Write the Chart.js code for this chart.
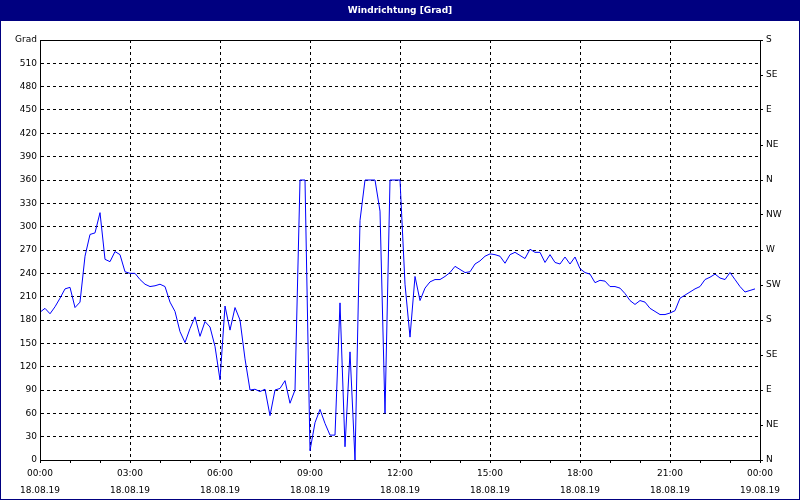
<!DOCTYPE html>
<html>
<head>
<meta charset="utf-8">
<title>Windrichtung [Grad]</title>
<script src="https://cdn.jsdelivr.net/npm/chart.js@4/dist/chart.umd.min.js"></script>
<style>
  html, body { margin: 0; padding: 0; background: #fff; }
  canvas { display: block; }
</style>
</head>
<body>
<canvas id="windChart" width="800" height="500"></canvas>
<script>
// --- data (10 min samples, minutes since 00:00) ---
const chartTitle = 'Windrichtung [Grad]';
const yAxisUnit = 'Grad';

const sampleMinutes = [
  0, 10, 20, 30, 40, 50,
  60, 70, 80, 90, 100, 110,
  120, 130, 140, 150, 160, 170,
  180, 190, 200, 210, 220, 230,
  240, 250, 260, 270, 280, 290,
  300, 310, 320, 330, 340, 350,
  360, 370, 380, 390, 400, 410,
  420, 430, 440, 450, 460, 470,
  480, 490, 500, 510, 520, 530,
  540, 550, 560, 570, 580, 590,
  600, 610, 620, 630, 640, 650,
  660, 670, 680, 690, 700, 710,
  720, 730, 740, 750, 760, 770,
  780, 790, 800, 810, 820, 830,
  840, 850, 860, 870, 880, 890,
  900, 910, 920, 930, 940, 950,
  960, 970, 980, 990, 1000, 1010,
  1020, 1030, 1040, 1050, 1060, 1070,
  1080, 1090, 1100, 1110, 1120, 1130,
  1140, 1150, 1160, 1170, 1180, 1190,
  1200, 1210, 1220, 1230, 1240, 1250,
  1260, 1270, 1280, 1290, 1300, 1310,
  1320, 1330, 1340, 1350, 1360, 1370,
  1380, 1390, 1400, 1410, 1420, 1430
];

const windDirection = [
  190, 195, 188, 197, 208, 220,
  222, 196, 203, 262, 290, 292,
  318, 258, 255, 268, 264, 242,
  240, 240, 232, 226, 223, 224,
  226, 223, 203, 191, 165, 151,
  169, 184, 159, 178, 171, 146,
  103, 198, 167, 196, 180, 130,
  90, 91, 88, 91, 57, 90,
  92, 102, 73, 90, 360, 360,
  12, 48, 65, 47, 32, 32,
  202, 17, 139, 0, 308, 360,
  360, 360, 320, 60, 360, 360,
  360, 226, 158, 236, 205, 221,
  229, 232, 232, 236, 241, 249,
  245, 241, 242, 252, 256, 262,
  265, 264, 262, 253, 264, 267,
  263, 259, 271, 267, 267, 254,
  264, 254, 252, 261, 252, 261,
  246, 241, 239, 228, 231, 230,
  223, 223, 221, 214, 205, 200,
  205, 203, 195, 191, 187, 187,
  189, 192, 208, 212, 216, 220,
  223, 232, 235, 239, 234, 232,
  241, 232, 223, 216, 218, 220
];

const xTickTimes = ['00:00', '03:00', '06:00', '09:00', '12:00', '15:00', '18:00', '21:00', '00:00'];
const xTickDates = ['18.08.19', '18.08.19', '18.08.19', '18.08.19', '18.08.19', '18.08.19', '18.08.19', '18.08.19', '19.08.19'];
const compassLabels = ['N', 'NE', 'E', 'SE', 'S', 'SW', 'W', 'NW', 'N', 'NE', 'E', 'SE', 'S'];

const NAVY = '#000080';
const FONT = { family: 'DejaVu Sans', size: 9 };

// title bar, background and frame
const framePlugin = {
  id: 'frame',
  beforeDraw(chart) {
    const ctx = chart.ctx;
    ctx.save();
    ctx.fillStyle = '#ffffff';
    ctx.fillRect(0, 0, chart.width, chart.height);
    ctx.fillStyle = NAVY;
    ctx.fillRect(0, 0, chart.width, 21);
    ctx.fillStyle = '#ffffff';
    ctx.font = 'bold 9px "DejaVu Sans"';
    ctx.textAlign = 'center';
    ctx.textBaseline = 'middle';
    ctx.fillText(chartTitle, chart.width / 2, 11);
    ctx.restore();
  },
  afterDraw(chart) {
    const ctx = chart.ctx;
    const a = chart.chartArea;
    ctx.save();
    ctx.strokeStyle = '#000';
    ctx.lineWidth = 1;
    ctx.strokeRect(Math.round(a.left) + 0.5, Math.round(a.top) + 0.5,
                   Math.round(a.right - a.left), Math.round(a.bottom - a.top));
    ctx.strokeStyle = NAVY;
    ctx.strokeRect(0.5, 0.5, chart.width - 1, chart.height - 1);
    ctx.restore();
  }
};

new Chart(document.getElementById('windChart'), {
  type: 'line',
  data: {
    datasets: [{
      label: chartTitle,
      data: sampleMinutes.map((m, i) => ({ x: m, y: windDirection[i] })),
      borderColor: '#0000ff',
      borderWidth: 1,
      pointRadius: 0,
      tension: 0,
      fill: false
    }]
  },
  options: {
    responsive: false,
    animation: false,
    layout: { padding: { top: 40, left: 0, right: 0, bottom: 0 } },
    plugins: { legend: { display: false }, tooltip: { enabled: false }, title: { display: false } },
    scales: {
      x: {
        type: 'linear',
        min: 0,
        max: 1440,
        afterFit: s => { s.height = 40; },
        ticks: {
          stepSize: 60,
          autoSkip: false,
          maxRotation: 0,
          padding: 2,
          color: '#000',
          font: { family: FONT.family, size: FONT.size, lineHeight: 1.9 },
          callback: v => v % 180 === 0 ? [xTickTimes[v / 180], xTickDates[v / 180]] : ''
        },
        grid: {
          color: c => (c.tick && c.tick.value % 180 === 0) ? '#000' : 'rgba(0,0,0,0)',
          tickColor: '#000',
          tickLength: 3,
          tickBorderDash: [],
          lineWidth: 1
        },
        border: { display: true, color: '#000', dash: [3, 3] }
      },
      y: {
        position: 'left',
        min: 0,
        max: 540,
        afterFit: s => { s.width = 40; },
        ticks: {
          stepSize: 30,
          autoSkip: false,
          padding: 3,
          color: '#000',
          font: FONT,
          callback: v => v === 540 ? yAxisUnit : v
        },
        grid: { color: '#000', drawTicks: false, lineWidth: 1 },
        border: { display: true, color: '#000', dash: [3, 3] }
      },
      y2: {
        position: 'right',
        min: 0,
        max: 540,
        afterFit: s => { s.width = 40; },
        ticks: {
          stepSize: 45,
          autoSkip: false,
          padding: 3,
          color: '#000',
          font: FONT,
          callback: v => compassLabels[v / 45]
        },
        grid: { drawOnChartArea: false, tickColor: '#000', tickLength: 3, tickBorderDash: [] },
        border: { display: true, color: '#000' }
      }
    }
  },
  plugins: [framePlugin]
});
</script>
</body>
</html>
